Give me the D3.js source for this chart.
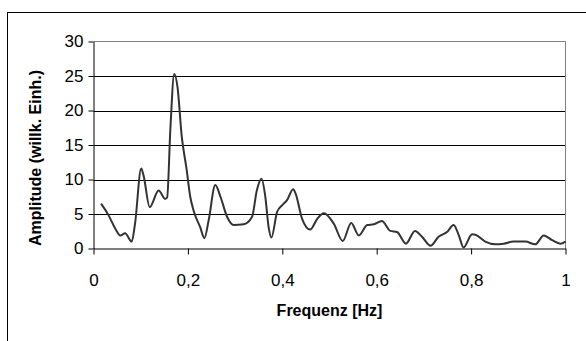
<!DOCTYPE html>
<html><head><meta charset="utf-8">
<script src="https://cdn.jsdelivr.net/npm/d3@7"></script>
<style>body{margin:0;background:#fff}svg{display:block}</style>
</head><body>
<svg id="c" width="586" height="341"></svg>
<script>
const freq = [0.016,0.032,0.046,0.057,0.067,0.081,0.088,0.101,0.106,0.119,0.138,0.152,0.156,0.163,0.171,0.178,0.187,0.197,0.205,0.212,0.226,0.235,0.244,0.258,0.269,0.283,0.297,0.318,0.336,0.346,0.356,0.364,0.371,0.377,0.389,0.400,0.410,0.423,0.428,0.442,0.459,0.474,0.488,0.509,0.528,0.546,0.562,0.580,0.594,0.611,0.629,0.643,0.662,0.681,0.696,0.714,0.731,0.749,0.763,0.774,0.784,0.802,0.809,0.830,0.852,0.869,0.890,0.915,0.936,0.954,0.972,0.989,1.0];
const amplitude = [6.5,4.8,2.9,1.9,2.2,1.0,3.6,11.6,10.6,6.0,8.4,7.2,7.4,17.5,25.3,23.4,16.2,11.6,7.5,5.5,3.1,1.5,4.1,9.2,7.5,4.6,3.4,3.5,4.6,8.4,10.1,7.5,3.1,1.6,5.3,6.3,7.0,8.6,8.0,4.3,2.75,4.3,5.1,3.6,1.1,3.7,1.9,3.4,3.5,4.0,2.55,2.4,0.7,2.55,1.7,0.4,1.7,2.4,3.4,1.9,0.15,2.07,2.0,1.0,0.6,0.7,1.0,1.0,0.6,1.9,1.2,0.7,1.0];
const xTicks = [0,0.2,0.4,0.6,0.8,1];
const yTicks = [0,5,10,15,20,25,30];
const xTitle = "Frequenz [Hz]";
const yTitle = "Amplitude (willk. Einh.)";

const svg = d3.select("#c");
const font = "'Liberation Sans', Arial, sans-serif";
svg.append("rect").attr("x",7.5).attr("y",12.5).attr("width",700).attr("height",500)
  .attr("fill","none").attr("stroke","#000").attr("stroke-width",1);

const x = d3.scaleLinear().domain([0,1]).range([93.5,565.5]);
const y = d3.scaleLinear().domain([0,30]).range([248.5,41.5]);

svg.append("g").selectAll("line").data(yTicks.filter(d=>d>0&&d<30)).join("line")
  .attr("x1",x(0)).attr("x2",x(1)).attr("y1",d=>Math.round(y(d))+0.5).attr("y2",d=>Math.round(y(d))+0.5)
  .attr("stroke","#000").attr("stroke-width",1);
svg.append("path").attr("d",`M${x(0)},${y(30)}H${x(1)}V${y(0)}`).attr("fill","none").attr("stroke","#808080");

const xAxis = d3.axisBottom(x).tickValues(xTicks).tickSize(6).tickSizeOuter(0)
  .tickFormat(d=>String(d).replace(".",","));
const gx = svg.append("g").attr("transform",`translate(0,${y(0)})`).call(xAxis);
gx.select(".domain").attr("stroke","#000");
gx.selectAll(".tick line").attr("stroke","#000");
gx.selectAll("text").attr("font-family",font).attr("font-size",17).attr("fill","#000").attr("y",25).attr("dy","0.71em");

const yAxis = d3.axisLeft(y).tickValues(yTicks).tickSize(5).tickSizeOuter(0).tickPadding(5);
const gy = svg.append("g").attr("transform",`translate(${x(0)},0)`).call(yAxis);
gy.select(".domain").attr("stroke","#000");
gy.selectAll(".tick line").attr("stroke","#000");
gy.selectAll("text").attr("font-family",font).attr("font-size",17).attr("fill","#000");

const data = freq.map((f,i)=>({f, a: amplitude[i]}));
svg.append("path").datum(data)
  .attr("d", d3.line().x(d=>x(d.f)).y(d=>y(d.a)).curve(d3.curveMonotoneX))
  .attr("fill","none").attr("stroke","#333").attr("stroke-width",2).attr("stroke-linejoin","round");

svg.append("text").attr("x",(x(0)+x(1))/2).attr("y",316).attr("text-anchor","middle")
  .attr("font-family",font).attr("font-weight","bold").attr("font-size",16).text(xTitle);
svg.append("text").attr("transform","translate(41,158) rotate(-90)").attr("text-anchor","middle")
  .attr("font-family",font).attr("font-weight","bold").attr("font-size",16).text(yTitle);
</script>
</body></html>
